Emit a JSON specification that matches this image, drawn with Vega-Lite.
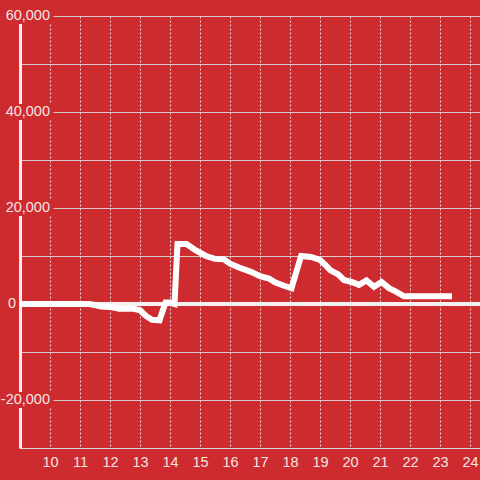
{
  "$schema": "https://vega.github.io/schema/vega-lite/v6.json",
  "autosize": {"type": "none"},
  "width": 460,
  "height": 432,
  "padding": {"left": 20, "top": 16, "right": 0, "bottom": 32},
  "background": "#cd2b2f",
  "config": {
    "view": {"stroke": null},
    "font": "Liberation Sans",
    "axisX": {
      "title": null,
      "grid": true, "gridColor": "#ead6d6", "gridDash": [2, 2], "gridWidth": 1,
      "domainColor": "#d8d8d8", "domainWidth": 1,
      "ticks": false, "tickSize": 0,
      "labelPadding": 7, "labelFontSize": 14.5, "labelColor": "#f6e4e4",
      "labelFont": "Liberation Sans", "labelOverlap": false, "labelFlush": false
    },
    "axisY": {
      "title": null,
      "labels": false,
      "grid": true, "gridColor": "#d6cccc", "gridWidth": 1,
      "domainColor": "#f4eeee", "domainWidth": 3,
      "ticks": false, "tickSize": 0
    }
  },
  "datasets": {
    "series": [
      {"hour": 9.0, "value": 0},
      {"hour": 11.3, "value": 0},
      {"hour": 11.5, "value": -200},
      {"hour": 11.7, "value": -500},
      {"hour": 12.0, "value": -600},
      {"hour": 12.3, "value": -1000},
      {"hour": 12.8, "value": -1000},
      {"hour": 13.0, "value": -1300},
      {"hour": 13.2, "value": -2500},
      {"hour": 13.4, "value": -3300},
      {"hour": 13.65, "value": -3400},
      {"hour": 13.85, "value": 300},
      {"hour": 14.0, "value": 300},
      {"hour": 14.15, "value": 0},
      {"hour": 14.25, "value": 12500},
      {"hour": 14.55, "value": 12500},
      {"hour": 14.85, "value": 11200},
      {"hour": 15.2, "value": 10000},
      {"hour": 15.5, "value": 9400},
      {"hour": 15.8, "value": 9300},
      {"hour": 16.0, "value": 8400},
      {"hour": 16.3, "value": 7600},
      {"hour": 16.7, "value": 6700},
      {"hour": 17.0, "value": 5800},
      {"hour": 17.3, "value": 5300},
      {"hour": 17.5, "value": 4500},
      {"hour": 17.8, "value": 3800},
      {"hour": 18.05, "value": 3300},
      {"hour": 18.37, "value": 10000},
      {"hour": 18.7, "value": 9800},
      {"hour": 19.0, "value": 9200},
      {"hour": 19.2, "value": 8000},
      {"hour": 19.35, "value": 7000},
      {"hour": 19.6, "value": 6200},
      {"hour": 19.8, "value": 5000},
      {"hour": 20.1, "value": 4500},
      {"hour": 20.3, "value": 4000},
      {"hour": 20.55, "value": 4900},
      {"hour": 20.8, "value": 3600},
      {"hour": 21.05, "value": 4600},
      {"hour": 21.3, "value": 3300},
      {"hour": 21.5, "value": 2700},
      {"hour": 21.8, "value": 1600},
      {"hour": 23.4, "value": 1600}
    ],
    "ylabels": [
      {"value": -20000, "label": "-20,000"},
      {"value": 20000, "label": "20,000"},
      {"value": 40000, "label": "40,000"},
      {"value": 60000, "label": "60,000"}
    ],
    "zerolabel": [
      {"value": 0, "label": "0"}
    ]
  },
  "layer": [
    {
      "data": {"name": "series"},
      "mark": {"type": "rule", "color": "#f7f2f2", "strokeWidth": 4},
      "encoding": {
        "y": {
          "datum": 0, "type": "quantitative",
          "scale": {"domain": [-30000, 60000], "nice": false, "zero": false},
          "axis": {"values": [-30000, -20000, -10000, 0, 10000, 20000, 30000, 40000, 50000, 60000]}
        }
      }
    },
    {
      "data": {"name": "series"},
      "mark": {"type": "line", "color": "#ffffff", "strokeWidth": 6, "strokeJoin": "miter", "strokeCap": "butt"},
      "encoding": {
        "x": {
          "field": "hour", "type": "quantitative",
          "scale": {"domain": [9, 24.3333], "nice": false, "zero": false},
          "axis": {"values": [10, 11, 12, 13, 14, 15, 16, 17, 18, 19, 20, 21, 22, 23, 24]}
        },
        "y": {"field": "value", "type": "quantitative", "axis": {"values": [-30000, -20000, -10000, 0, 10000, 20000, 30000, 40000, 50000, 60000]}}
      }
    },
    {
      "data": {"name": "ylabels"},
      "mark": {"type": "rect", "color": "#cd2b2f", "width": 52, "height": 16, "xOffset": 7.5},
      "encoding": {
        "x": {"datum": 9, "type": "quantitative", "axis": {"values": [10, 11, 12, 13, 14, 15, 16, 17, 18, 19, 20, 21, 22, 23, 24]}},
        "y": {"field": "value", "type": "quantitative", "axis": {"values": [-30000, -20000, -10000, 0, 10000, 20000, 30000, 40000, 50000, 60000]}}
      }
    },
    {
      "data": {"name": "ylabels"},
      "mark": {"type": "text", "align": "right", "baseline": "middle", "dx": 30, "fontSize": 14.5, "color": "#f6e4e4", "font": "Liberation Sans"},
      "encoding": {
        "x": {"datum": 9, "type": "quantitative", "axis": {"values": [10, 11, 12, 13, 14, 15, 16, 17, 18, 19, 20, 21, 22, 23, 24]}},
        "y": {"field": "value", "type": "quantitative", "axis": {"values": [-30000, -20000, -10000, 0, 10000, 20000, 30000, 40000, 50000, 60000]}},
        "text": {"field": "label", "type": "nominal"}
      }
    },
    {
      "data": {"name": "zerolabel"},
      "mark": {"type": "text", "align": "right", "baseline": "middle", "dx": -4, "fontSize": 14.5, "color": "#f6e4e4", "font": "Liberation Sans"},
      "encoding": {
        "x": {"datum": 9, "type": "quantitative", "axis": {"values": [10, 11, 12, 13, 14, 15, 16, 17, 18, 19, 20, 21, 22, 23, 24]}},
        "y": {"field": "value", "type": "quantitative", "axis": {"values": [-30000, -20000, -10000, 0, 10000, 20000, 30000, 40000, 50000, 60000]}},
        "text": {"field": "label", "type": "nominal"}
      }
    }
  ]
}
